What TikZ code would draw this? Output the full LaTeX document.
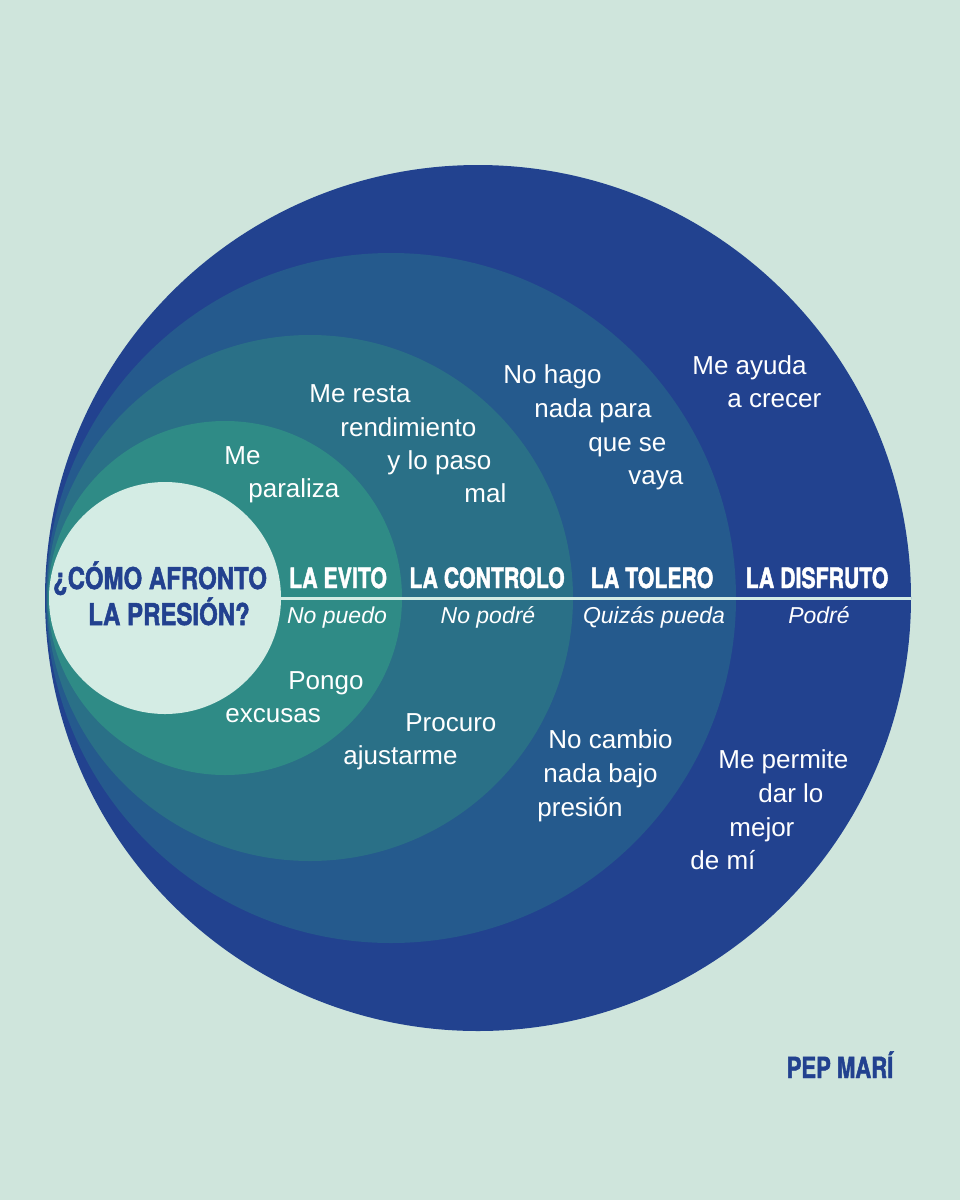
\documentclass[tikz,border=0pt]{standalone}
\usepackage{fontspec}
\setmainfont{Liberation Sans}
\newfontfamily\headfont[FakeStretch=0.76, BoldFeatures={FakeBold=1.6}]{TeX Gyre Heros}
\newfontfamily\askfont[FakeStretch=0.8, BoldFeatures={FakeBold=1.6}]{TeX Gyre Heros}
\usepackage{xcolor}
\definecolor{paperbg}{HTML}{CFE5DC}
\definecolor{askbg}{HTML}{D4ECE4}
\definecolor{evitobg}{HTML}{2F8B86}
\definecolor{controlobg}{HTML}{2A7087}
\definecolor{tolerobg}{HTML}{255A8D}
\definecolor{disfrutobg}{HTML}{22428F}
\definecolor{inkblue}{HTML}{22418F}
\usepackage{tikz}

\begin{document}
\begin{tikzpicture}[x=0.5pt, y=-0.5pt,
  ring/.style={circle, inner sep=0pt, draw=none},
  header/.style={font=\headfont\bfseries\fontsize{14}{16}\selectfont,
                text=white, anchor=base},
  sub/.style={font=\itshape\fontsize{11.5}{14}\selectfont,
             text=white, anchor=base},
  say/.style={font=\fontsize{13}{16}\selectfont, text=white,
             anchor=base west, inner sep=0pt},
  ask/.style={font=\askfont\bfseries\fontsize{15}{18}\selectfont,
             text=inkblue, anchor=base},
]
% Background
\fill[paperbg] (0,0) rectangle (960,1200);
\useasboundingbox (0,0) rectangle (960,1200);

% Circles, largest first
\node[ring, fill=disfrutobg, minimum size=433pt] (disfruto) at (478,598) {};
\node[ring, fill=tolerobg, minimum size=345pt] (tolero) at (391,598) {};
\node[ring, fill=controlobg, minimum size=263pt] (controlo) at (310,598) {};
\node[ring, fill=evitobg, minimum size=177pt] (evito) at (225,598) {};
\node[ring, fill=askbg, minimum size=116pt] (pregunta) at (165,598) {};

% Divider
\draw[askbg, line width=1.5pt] (pregunta.east) -- (disfruto.east);

% Question
\node[ask] (ask1) at (160,589) {¿CÓMO AFRONTO};
\node[ask] (ask2) at (169,625) {LA PRESIÓN?};

% Headers
\node[header] (h1) at (338,588) {LA EVITO};
\node[header] (h2) at (487,588) {LA CONTROLO};
\node[header] (h3) at (652,588) {LA TOLERO};
\node[header] (h4) at (817,588) {LA DISFRUTO};

% Sub labels
\node[sub] (s1) at (337,623) {No puedo};
\node[sub] (s2) at (488,623) {No podré};
\node[sub] (s3) at (654,623) {Quizás pueda};
\node[sub] (s4) at (819,623) {Podré};

% Upper half
\node[say] (e1) at (224,464) {Me};
\node[say] (e2) at (248,497) {paraliza};
\node[say] (c1) at (309,402) {Me resta};
\node[say] (c2) at (340,436) {rendimiento};
\node[say] (c3) at (387,469) {y lo paso};
\node[say] (c4) at (464,502) {mal};
\node[say] (t1) at (503,383) {No hago};
\node[say] (t2) at (534,417) {nada para};
\node[say] (t3) at (588,451) {que se};
\node[say] (t4) at (628,484) {vaya};
\node[say] (d1) at (692,374) {Me ayuda};
\node[say] (d2) at (727,407) {a crecer};

% Lower half
\node[say] (e3) at (288,689) {Pongo};
\node[say] (e4) at (225,722) {excusas};
\node[say] (c5) at (405,731) {Procuro};
\node[say] (c6) at (343,764) {ajustarme};
\node[say] (t5) at (548,748) {No cambio};
\node[say] (t6) at (543,782) {nada bajo};
\node[say] (t7) at (537,816) {presión};
\node[say] (d3) at (718,768) {Me permite};
\node[say] (d4) at (758,802) {dar lo};
\node[say] (d5) at (729,836) {mejor};
\node[say] (d6) at (690,869) {de mí};

% Signature
\node[header, text=inkblue, font=\headfont\bfseries\fontsize{14.5}{16}\selectfont] (firma) at (840,1078) {PEP MARÍ};
\end{tikzpicture}
\end{document}
